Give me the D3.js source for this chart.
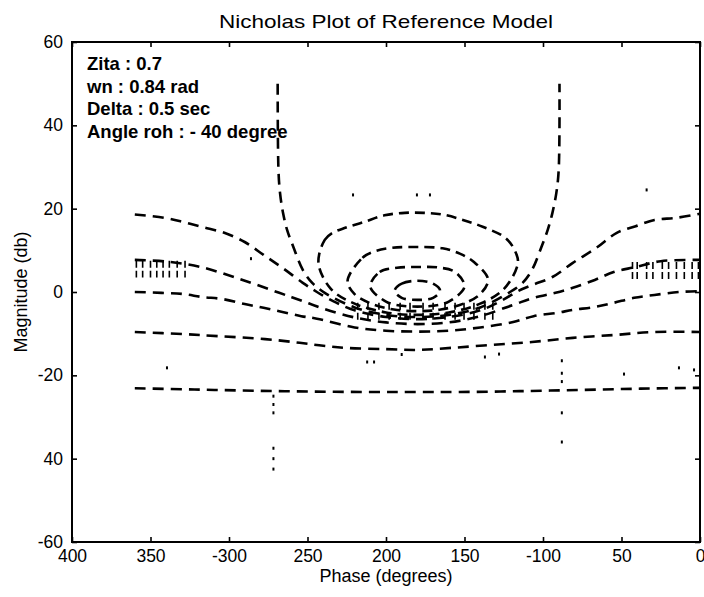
<!DOCTYPE html>
<html>
<head>
<meta charset="utf-8">
<script src="https://cdn.jsdelivr.net/npm/d3@7"></script>
<style>
    body { margin: 0; background: #fff; }
    #chart { width: 704px; height: 597px; }
    text { font-family: "Liberation Sans", Arial, sans-serif; fill: #000; }
    .axis text { font-size: 17.5px; }
    .axis line { stroke: #000; stroke-width: 1.6; }
    .axis path { display: none; }
</style>
</head>
<body>
<div id="chart"></div>
<script>
// tick values and the labels as printed on the (scanned) figure
const xTickValues = [-400, -350, -300, -250, -200, -150, -100, -50, 0];
const xTickLabels = ["400", "350", "-300", "250", "200", "150", "-100", "50", "0"];
const yTickValues = [60, 40, 20, 0, -20, -40, -60];
const yTickLabels = ["60", "40", "20", "0", "-20", "40", "-60"];

const infoLines = ["Zita : 0.7", "wn : 0.84 rad", "Delta : 0.5 sec", "Angle roh : - 40 degree"];

// open contours, [phase (deg), magnitude (db)]
const contourMinus1 = [[-360, 18.6], [-341, 17.8], [-329, 16.8], [-317, 15.6], [-303, 14.2], [-290, 12.0], [-278, 8.9], [-266, 5.8], [-253, 2.2], [-244, 0], [-232, -2.5], [-220, -4.4], [-200, -6.0], [-180, -6.5], [-160, -6.0], [-140, -4.4], [-126, -2.0], [-116, 0.2], [-106, 1.8], [-94, 3.6], [-81, 7.0], [-66, 10.6], [-53, 14.2], [-41, 15.8], [-29, 17.3], [-15, 17.8], [0, 18.8]];
const contourMinus3 = [[-360, 7.7], [-340, 7.3], [-318, 6.0], [-293, 3.1], [-268, -0.2], [-255, -1.9], [-240, -4.0], [-220, -6.1], [-200, -7.3], [-180, -7.7], [-160, -7.3], [-140, -5.8], [-119, -3.1], [-106, -1.4], [-92, -0.2], [-81, 1.0], [-67, 2.9], [-55, 4.8], [-41, 6.0], [-25, 7.4], [0, 7.7]];
const contourMinus6 = [[-360, 0], [-343, -0.2], [-329, -0.5], [-317, -1.2], [-304, -1.7], [-290, -2.9], [-278, -3.8], [-266, -4.8], [-254, -5.8], [-244, -6.4], [-220, -8.5], [-200, -9.3], [-180, -9.5], [-160, -9.3], [-140, -8.5], [-119, -7.2], [-106, -5.8], [-91, -5.0], [-81, -4.3], [-67, -3.6], [-55, -2.6], [-42, -1.4], [-29, -0.7], [-13, 0], [0, 0.2]];
const contourMinus12 = [[-360, -9.6], [-329, -10.1], [-307, -10.6], [-277, -11.3], [-255, -12.2], [-240, -12.9], [-226, -13.4], [-201, -13.7], [-180, -13.9], [-158, -13.4], [-133, -12.7], [-107, -12.0], [-81, -11.0], [-54, -10.3], [-29, -9.6], [0, -9.6]];
const contourMinus24 = [[-360, -23.1], [-322, -23.4], [-284, -23.7], [-245, -23.9], [-207, -24.0], [-180, -24.0], [-153, -24.0], [-115, -23.8], [-76, -23.5], [-38, -23.2], [0, -23.0]];
const contourZero = [[-269, 50], [-268.5, 29.3], [-267.5, 23.8], [-265.6, 19.0], [-263, 14.9], [-259, 10.8], [-253, 5.3], [-247, 2.2], [-239, -0.2], [-220, -3.7], [-200, -5.5], [-180, -6.0], [-160, -5.5], [-140, -3.7], [-121, 0], [-113, 2.2], [-107, 5.3], [-101, 10.8], [-97, 14.9], [-94, 19.0], [-91.5, 23.8], [-90, 29.3], [-89.5, 50]];

// closed contours around (-180, 0)
const contourPlus1 = [[-243, 6.9], [-239, 12.5], [-234, 14.2], [-226, 15.4], [-214, 16.8], [-201, 18.4], [-188, 19.0], [-176, 19.0], [-164, 18.6], [-151, 17.3], [-138, 15.6], [-124, 13.0], [-118, 10.0], [-116, 6.9], [-125, 0.7], [-140, -2.8], [-160, -4.9], [-180, -5.5], [-200, -4.9], [-220, -2.8], [-235, 0.7]];
const contourPlus3 = [[-224.5, 2.6], [-215, 8.2], [-207, 9.8], [-196, 10.6], [-180, 10.8], [-164, 10.5], [-153, 9.2], [-144, 7.2], [-135, 3.0], [-140, -0.5], [-150, -2.7], [-165, -4.2], [-180, -4.6], [-195, -4.2], [-210, -2.7], [-220, -0.5]];
const contourPlus6 = [[-210, 1.3], [-204, 4.8], [-193, 5.8], [-180, 6.0], [-167, 5.9], [-156, 4.8], [-150, 1.3], [-160, -2.3], [-170, -3.3], [-180, -3.5], [-190, -3.3], [-200, -2.3]];
const contourPlus12 = [[-194.5, 0.3], [-190, 2.0], [-180, 2.7], [-170, 2.0], [-165.5, 0.3], [-170, -1.4], [-180, -1.9], [-190, -1.4]];

// short vertical strokes (hatching) and stray marks seen on the scan
const hatchLeft = [-359, -355, -350, -346, -342, -338, -333, -328];
const hatchLeftBand = [3.5, 7.5];
const hatchRight = [-43, -40, -34, -30, -24, -20, -15, -10, -5, -1];
const hatchRightBand = [2.8, 7.2];
const hatchCenter = [-218, -211.5, -204.5, -198, -191, -184.7, -176.4, -170, -162.4, -156, -150.3, -144, -137, -132];
const hatchCenterBand = [-6.7, -2.6];
const specks = [[-339.5, -18.2], [-212, -16.8], [-207.6, -16.8], [-137, -15.6], [-128, -14.9], [-48.4, -19.7], [-13.4, -18.2], [-3.8, -18.7], [-221, 23.3], [-180.3, 23.3], [-172, 23.3], [-34, 24.5], [-271.7, -25], [-271.7, -27], [-271.7, -29], [-271.7, -37.5], [-271.7, -40], [-271.7, -42.5], [-88, -16.5], [-88, -19.5], [-88, -21.5], [-88, -29], [-88, -36], [-286, 8], [-190, -15]];

/*
SETTING UP THE SVG CANVAS
*/
const width = 704;
const height = 597;
const margin = { top: 42, left: 72, right: 4, bottom: 55 };

const svg = d3.select("#chart")
    .append("svg")
    .attr("width", width)
    .attr("height", height);

/*
SCALES
*/
const xScale = d3.scaleLinear()
    .domain([-400, 0])
    .range([margin.left, width - margin.right]);

const yScale = d3.scaleLinear()
    .domain([-60, 60])
    .range([height - margin.bottom, margin.top]);

/*
AXES (ticks pointing inward, like matlab)
*/
svg.append("g")
    .attr("class", "axis")
    .attr("transform", `translate(0,${height - margin.bottom})`)
    .call(d3.axisBottom(xScale).tickValues(xTickValues).tickSize(-5).tickPadding(8)
        .tickFormat((d, i) => xTickLabels[i]));

svg.append("g")
    .attr("class", "axis")
    .attr("transform", `translate(0,${margin.top})`)
    .call(d3.axisTop(xScale).tickValues(xTickValues).tickSize(-5).tickFormat(""));

svg.append("g")
    .attr("class", "axis")
    .attr("transform", `translate(${margin.left},0)`)
    .call(d3.axisLeft(yScale).tickValues(yTickValues).tickSize(-5).tickPadding(9)
        .tickFormat((d, i) => yTickLabels[i]));

svg.append("g")
    .attr("class", "axis")
    .attr("transform", `translate(${width - margin.right},0)`)
    .call(d3.axisRight(yScale).tickValues(yTickValues).tickSize(-5).tickFormat(""));

// plot frame
svg.append("rect")
    .attr("x", xScale(-400))
    .attr("y", yScale(60))
    .attr("width", xScale(0) - xScale(-400))
    .attr("height", yScale(-60) - yScale(60))
    .attr("fill", "none")
    .attr("stroke", "#000")
    .attr("stroke-width", 2);

/*
CONTOURS
*/
const line = d3.line()
    .x(d => xScale(d[0]))
    .y(d => yScale(d[1]))
    .curve(d3.curveCatmullRom.alpha(0.5));

const closedLine = d3.line()
    .x(d => xScale(d[0]))
    .y(d => yScale(d[1]))
    .curve(d3.curveCatmullRomClosed.alpha(0.5));

const openContours = [contourMinus1, contourMinus3, contourMinus6, contourMinus12, contourMinus24, contourZero];
const closedContours = [contourPlus1, contourPlus3, contourPlus6, contourPlus12];

svg.selectAll(".open")
    .data(openContours)
    .enter()
    .append("path")
    .attr("class", "open")
    .attr("d", line)
    .attr("fill", "none")
    .attr("stroke", "#000")
    .attr("stroke-width", 2.6)
    .attr("stroke-dasharray", "11,7");

svg.selectAll(".closed")
    .data(closedContours)
    .enter()
    .append("path")
    .attr("class", "closed")
    .attr("d", closedLine)
    .attr("fill", "none")
    .attr("stroke", "#000")
    .attr("stroke-width", 2.6)
    .attr("stroke-dasharray", "10,6");

// hatching strokes
function drawHatch(phases, band) {
    svg.append("g")
        .selectAll("line")
        .data(phases)
        .enter()
        .append("line")
        .attr("x1", d => xScale(d))
        .attr("x2", d => xScale(d))
        .attr("y1", yScale(band[1]))
        .attr("y2", yScale(band[0]))
        .attr("stroke", "#000")
        .attr("stroke-width", 1.6)
        .attr("stroke-dasharray", "7,3");
}
drawHatch(hatchLeft, hatchLeftBand);
drawHatch(hatchRight, hatchRightBand);
drawHatch(hatchCenter, hatchCenterBand);

svg.append("g")
    .selectAll("rect")
    .data(specks)
    .enter()
    .append("rect")
    .attr("x", d => xScale(d[0]) - 1)
    .attr("y", d => yScale(d[1]) - 1.5)
    .attr("width", 2)
    .attr("height", 3)
    .attr("fill", "#000");

/*
TEXT
*/
svg.append("text")
    .attr("x", (xScale(-400) + xScale(0)) / 2)
    .attr("y", 28)
    .attr("text-anchor", "middle")
    .attr("textLength", 334)
    .attr("lengthAdjust", "spacingAndGlyphs")
    .style("font-size", "19px")
    .text("Nicholas Plot of Reference Model");

svg.append("text")
    .attr("x", (xScale(-400) + xScale(0)) / 2)
    .attr("y", 582)
    .attr("text-anchor", "middle")
    .style("font-size", "18px")
    .text("Phase (degrees)");

svg.append("text")
    .attr("x", -yScale(0))
    .attr("y", 27)
    .attr("text-anchor", "middle")
    .attr("transform", "rotate(-90)")
    .style("font-size", "18px")
    .text("Magnitude (db)");

svg.append("g")
    .selectAll("text")
    .data(infoLines)
    .enter()
    .append("text")
    .attr("x", 87)
    .attr("y", (d, i) => 70 + i * 22.7)
    .style("font-size", "18.5px")
    .style("font-weight", "bold")
    .text(d => d);
</script>
</body>
</html>
